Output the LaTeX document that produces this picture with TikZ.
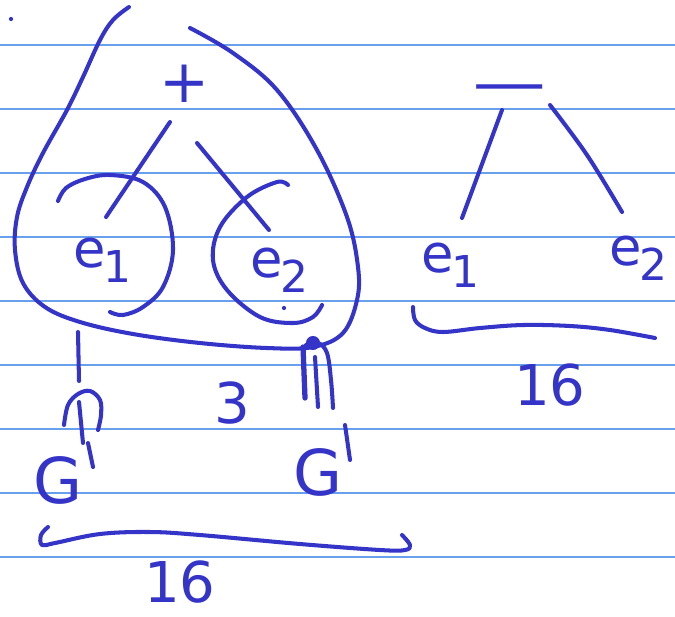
\documentclass[tikz,border=0pt]{standalone}
\usepackage{fontspec}
\setmainfont{DejaVu Sans}
\definecolor{ink}{RGB}{52,52,200}
\definecolor{paperrule}{RGB}{105,160,235}
\tikzset{
  pen/.style={ink, line width=2.3pt, line cap=round, line join=round},
  hand/.style={ink, inner sep=0pt, font=\fontsize{30}{36}\selectfont},
  big/.style={ink, inner sep=0pt, font=\fontsize{36}{42}\selectfont},
  digits/.style={ink, inner sep=0pt, font=\fontsize{32}{38}\selectfont},
}
\newcommand{\lowsub}[1]{\kern-0.04em\raisebox{-0.3em}{\fontsize{25}{30}\selectfont #1}}
\begin{document}
\begin{tikzpicture}[x=0.02cm,y=-0.02cm]
\useasboundingbox (0,0) rectangle (675,616);
\fill[white] (0,0) rectangle (675,616);
\foreach \y in {45,109,...,557} \draw[paperrule, line width=0.9pt] (0,\y) -- (675,\y);
% big loop
\draw[pen] plot[smooth, tension=0.6] coordinates {(129,7) (113,20) (100,40) (83,77) (67,110) (43,153) (27,187) (17,217) (15,250) (23,283) (45,307) (80,322) (133,334) (200,343) (267,348) (313,347) (343,333) (357,300) (358,267) (347,217) (317,150) (277,90) (233,53) (190,28)};
% plus and branches
\node[hand, font=\fontsize{34}{40}\selectfont] (plus) at (185,84) {+};
\draw[pen] (170,122) -- (106,217);
\draw[pen] (197,143) -- (269,230);
% e1 circle
\draw[pen] plot[smooth, tension=0.6] coordinates {(58,201) (66,188) (85,179) (110,175) (143,182) (165,207) (173,250) (163,287) (143,307) (123,315) (110,312)};
% e2 circle
\draw[pen] plot[smooth, tension=0.6] coordinates {(288,185) (277,182) (247,197) (220,227) (213,260) (227,290) (260,317) (293,323) (313,317) (322,305)};
\node[hand, anchor=base west] (e1) at (73,267) {e\lowsub{1}};
\node[hand, anchor=base west] (e2) at (250,277) {e\lowsub{2}};
\fill[ink] (284,308) circle (1.2pt);
\fill[ink] (11,19) circle (1.2pt);
% left bottom marks
\draw[pen] (78,332) -- (79,381);
\draw[pen] plot[smooth, tension=0.6] coordinates {(64,425) (68,405) (78,394) (90,391) (100,400) (101,415) (98,430)};
\draw[pen] (79,402) -- (83,443);
\node[big] (g1) at (58,480) {G};
\draw[pen] (88,443) -- (93,467);
% right bottom marks
\fill[ink] (313,343) circle (4pt);
\draw[pen, line width=3pt] (303,347) -- (305,398);
\draw[pen] plot[smooth, tension=0.6] coordinates {(306,345) (318,343) (327,353) (331,380) (333,408)};
\draw[pen] (315,357) -- (318,407);
\node[big] (g2) at (318,472) {G};
\draw[pen] (345,425) -- (350,460);
\node[digits] (three) at (232,403) {3};
% brace left
\draw[pen] plot[smooth, tension=0.6] coordinates {(48,527) (41,535) (42,545) (55,543) (100,534) (150,532) (200,535) (300,544) (380,550) (405,550) (410,545) (402,535)};
\node[digits] (n16a) at (180,582) {16};
% right tree
\node[hand, anchor=base] (minus) at (510,103) {\scalebox{2}[1]{−}};
\draw[pen] (502,110) -- (462,218);
\draw[pen] plot[smooth, tension=0.6] coordinates {(550,105) (587,155) (622,212)};
\node[hand, anchor=base west] (e1r) at (421,272) {e\lowsub{1}};
\node[hand, anchor=base west] (e2r) at (609,265) {e\lowsub{2}};
\draw[pen] plot[smooth, tension=0.6] coordinates {(413,307) (415,320) (425,328) (443,332) (480,328) (523,325) (570,326) (610,330) (655,338)};
\node[digits] (n16b) at (550,385) {16};
\end{tikzpicture}
\end{document}
